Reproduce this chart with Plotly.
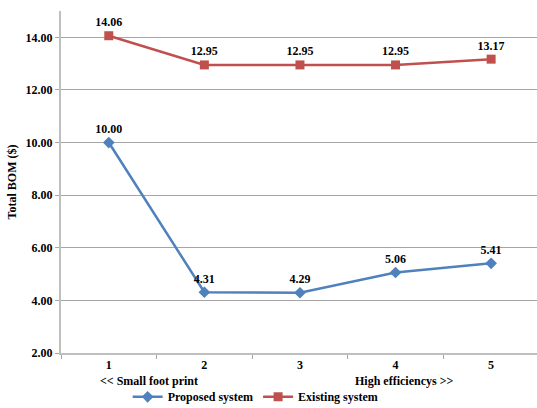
import plotly.graph_objects as go

categories = ["1", "2", "3", "4", "5"]
proposed = [10.00, 4.31, 4.29, 5.06, 5.41]
existing = [14.06, 12.95, 12.95, 12.95, 13.17]
y_ticks = [2, 4, 6, 8, 10, 12, 14]
y_tick_labels = ["2.00", "4.00", "6.00", "8.00", "10.00", "12.00", "14.00"]

FONT = "Liberation Serif"
BLUE = "#4F81BD"
RED = "#C0504D"

def f(size=12):
    return dict(family=FONT, size=size, color="black", weight="bold")

fig = go.Figure()
fig.add_trace(go.Scatter(
    x=categories, y=proposed, name="Proposed system",
    mode="lines+markers+text",
    line=dict(color=BLUE, width=2.5),
    marker=dict(symbol="diamond", size=9, color=BLUE),
    text=[f"{v:.2f}" for v in proposed], textposition="top center",
    textfont=f(), cliponaxis=False,
))
fig.add_trace(go.Scatter(
    x=categories, y=existing, name="Existing system",
    mode="lines+markers+text",
    line=dict(color=RED, width=2.5),
    marker=dict(symbol="square", size=9, color=RED),
    text=[f"{v:.2f}" for v in existing], textposition="top center",
    textfont=f(), cliponaxis=False,
))

fig.update_layout(
    width=537, height=408,
    margin=dict(l=61, r=0, t=11, b=55, autoexpand=False),
    paper_bgcolor="white", plot_bgcolor="white",
    font=f(),
    showlegend=True,
    legend=dict(orientation="h", x=0.14, y=-0.128, xanchor="left", yanchor="middle",
                font=f(), bgcolor="rgba(0,0,0,0)", itemwidth=30),
)
fig.update_xaxes(
    type="category", range=[-0.5, 4.48], automargin=False,
    tickson="boundaries", ticks="outside", ticklen=4, tickcolor="#A6A6A6",
    showgrid=False, showline=True, linecolor="#BFBFBF", linewidth=2,
    tickfont=f(), zeroline=False,
)
fig.update_yaxes(
    range=[2, 15], tickvals=y_ticks, ticktext=y_tick_labels, automargin=False,
    ticks="outside", ticklen=4, tickcolor="#A6A6A6",
    showgrid=True, gridcolor="#A6A6A6", gridwidth=1,
    showline=True, linecolor="#BFBFBF", linewidth=2,
    tickfont=f(),
    title=dict(text="Total BOM ($)", font=f(), standoff=6),
    zeroline=False,
)
fig.add_annotation(x=0.42, y=-0.082, xref="x", yref="paper", text="<< Small foot print",
                   showarrow=False, yanchor="middle", font=f())
fig.add_annotation(x=3.09, y=-0.082, xref="x", yref="paper", text="High efficiencys >>",
                   showarrow=False, yanchor="middle", font=f())

fig.write_html("out.html", config={"displayModeBar": False},
               post_script="document.body.style.margin='0px';")
